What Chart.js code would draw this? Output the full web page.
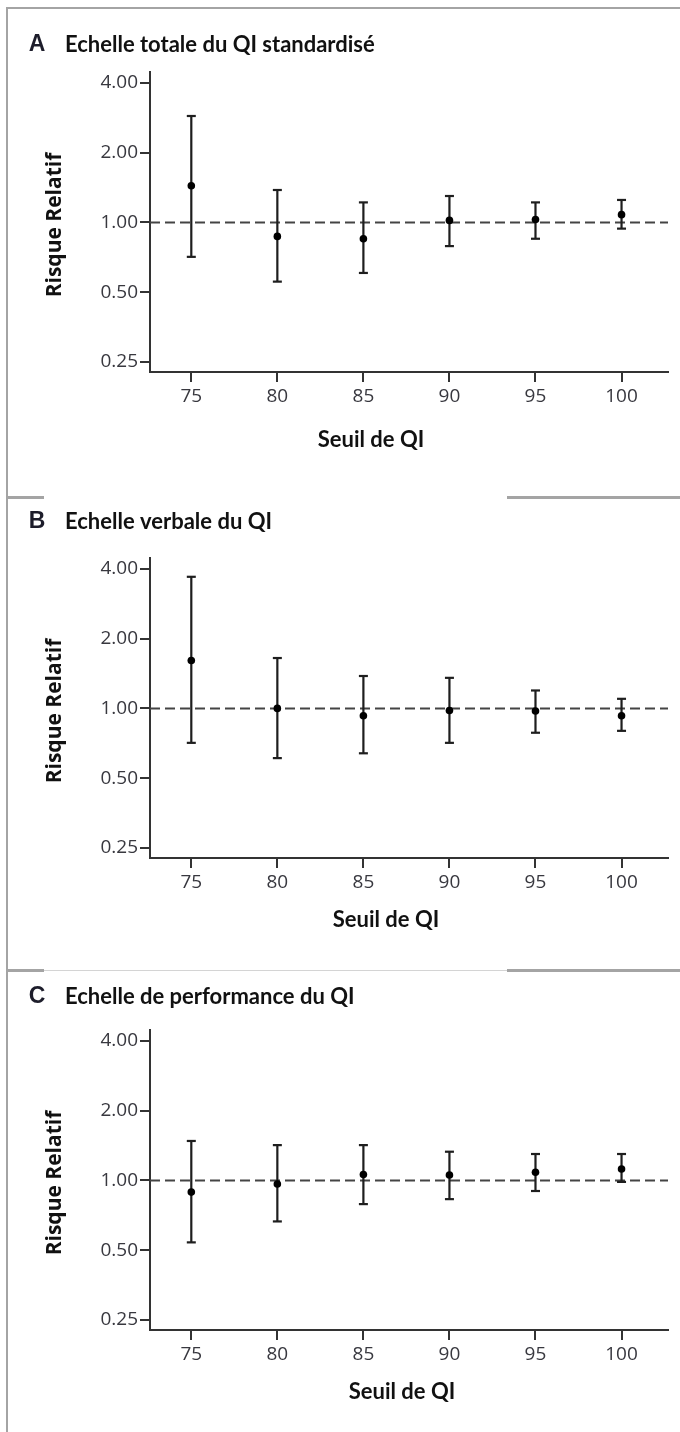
<!DOCTYPE html>
<html>
<head>
<meta charset="utf-8">
<script src="https://cdn.jsdelivr.net/npm/chart.js@4.4.1/dist/chart.umd.min.js"></script>
<style>
  html, body { margin: 0; padding: 0; background: #fff; }
  #wrap { position: relative; width: 680px; height: 1432px; overflow: hidden; }
  canvas { position: absolute; left: 0; }
  .rule { position: absolute; background: #a4a4a4; }
</style>
</head>
<body>
<div id="wrap">
  <div class="rule" style="left:6px;top:7px;width:674px;height:2px;"></div>
  <div class="rule" style="left:6px;top:7px;width:2px;height:1425px;"></div>
  <div class="rule" style="left:6px;top:496px;width:38px;height:3px;"></div>
  <div class="rule" style="left:507px;top:496px;width:173px;height:3px;"></div>
  <div class="rule" style="left:6px;top:969px;width:38px;height:3px;"></div>
  <div class="rule" style="left:507px;top:969px;width:173px;height:3px;"></div>
  <div class="rule" style="left:44px;top:970px;width:463px;height:1px;background:#d4d4d4;"></div>
  <canvas id="chartA" width="680" height="484" style="top:0px"></canvas>
  <canvas id="chartB" width="680" height="476" style="top:484px"></canvas>
  <canvas id="chartC" width="680" height="472" style="top:960px"></canvas>
</div>
<script>
// seuils de QI (axe x) et graduations de l'axe log
const seuils = [75, 80, 85, 90, 95, 100];
const yTicks = [0.25, 0.5, 1, 2, 4];

// A - echelle totale
const rrTotal = [1.44, 0.87, 0.85, 1.02, 1.03, 1.08];
const loTotal = [0.71, 0.555, 0.605, 0.79, 0.85, 0.94];
const hiTotal = [2.88, 1.38, 1.22, 1.30, 1.22, 1.25];

// B - echelle verbale
const rrVerbal = [1.61, 1.00, 0.93, 0.98, 0.975, 0.93];
const loVerbal = [0.71, 0.61, 0.64, 0.71, 0.785, 0.80];
const hiVerbal = [3.70, 1.65, 1.38, 1.355, 1.195, 1.10];

// C - echelle de performance
const rrPerf = [0.89, 0.965, 1.06, 1.055, 1.085, 1.12];
const loPerf = [0.54, 0.665, 0.79, 0.83, 0.90, 0.985];
const hiPerf = [1.48, 1.42, 1.42, 1.33, 1.30, 1.30];

const xMin = 72.6, xMax = 102.7;
const yMin = 0.226, yMax = 4.46;
const ink = '#1e1e1e';

const panelText = {
  id: 'panelText',
  afterDraw(chart, args, opts) {
    const ctx = chart.ctx;
    const area = chart.chartArea;
    ctx.save();
    ctx.textBaseline = 'middle';
    const ty = area.top + opts.titleDy;
    ctx.textAlign = 'center';
    ctx.font = 'bold 23px "Liberation Sans"';
    ctx.fillStyle = '#1d1d2b';
    ctx.fillText(opts.letter, 37, ty);
    ctx.fillStyle = '#111';
    ctx.textAlign = 'left';
    ctx.font = 'bold 22px Lato';
    ctx.fillText(opts.title, 65, ty);
    ctx.textAlign = 'center';
    ctx.fillText('Seuil de QI', opts.xTitleX, area.bottom + opts.xTitleDy);
    ctx.translate(55, (area.top + area.bottom) / 2 + 3);
    ctx.rotate(-Math.PI / 2);
    ctx.font = 'bold 21px "Open Sans"';
    ctx.fillText('Risque Relatif', 0, 0);
    ctx.restore();
  }
};

function makePanel(id, rr, lo, hi, text, top) {
  const canvas = document.getElementById(id);
  const xHeight = canvas.height - top - 300;
  const bars = [];
  const caps = [];
  seuils.forEach((s, i) => {
    bars.push({x: s, y: lo[i]}, {x: s, y: hi[i]}, {x: s, y: null});
    caps.push({x: s, y: lo[i]}, {x: s, y: hi[i]});
  });
  const tickFont = {family: '"Open Sans"', size: 19};
  return new Chart(canvas, {
    type: 'scatter',
    data: {
      datasets: [
        {
          type: 'line',
          data: [{x: xMin, y: 1}, {x: xMax, y: 1}],
          borderColor: '#444',
          borderWidth: 2,
          borderDash: [10, 5],
          pointRadius: 0,
          order: 4
        },
        {
          type: 'line',
          data: bars,
          borderColor: ink,
          borderWidth: 2.2,
          pointRadius: 0,
          spanGaps: false,
          order: 3
        },
        {
          data: caps,
          pointStyle: 'line',
          pointRadius: 4.5,
          borderColor: ink,
          borderWidth: 2.2,
          order: 2
        },
        {
          data: seuils.map((s, i) => ({x: s, y: rr[i]})),
          pointStyle: 'circle',
          pointRadius: 3.8,
          backgroundColor: '#000',
          borderColor: '#000',
          borderWidth: 0,
          order: 1
        }
      ]
    },
    options: {
      responsive: false,
      animation: false,
      devicePixelRatio: 1,
      layout: {padding: {top: top, right: 12, left: 0, bottom: 0}},
      plugins: {
        legend: {display: false},
        tooltip: {enabled: false},
        panelText: text
      },
      scales: {
        x: {
          type: 'linear',
          min: xMin,
          max: xMax,
          afterBuildTicks: s => { s.ticks = seuils.map(v => ({value: v})); },
          afterFit: s => { s.height = xHeight; },
          border: {color: '#333', width: 2},
          grid: {drawOnChartArea: false, drawTicks: true, tickLength: 10, color: '#333', lineWidth: 2},
          ticks: {font: tickFont, color: '#38383f', padding: 3, autoSkip: false, maxRotation: 0}
        },
        y: {
          type: 'logarithmic',
          min: yMin,
          max: yMax,
          afterBuildTicks: s => { s.ticks = yTicks.map(v => ({value: v})); },
          afterFit: s => { s.width = 150; },
          border: {color: '#333', width: 2},
          grid: {drawOnChartArea: false, drawTicks: true, tickLength: 10, color: '#333', lineWidth: 2},
          ticks: {
            font: tickFont, color: '#38383f', padding: 2, autoSkip: false,
            callback: v => Number(v).toFixed(2)
          }
        }
      }
    },
    plugins: [panelText]
  });
}

makePanel('chartA', rrTotal, loTotal, hiTotal,
  {letter: 'A', title: 'Echelle totale du QI standardisé', titleDy: -27, xTitleX: 371, xTitleDy: 68}, 72);
makePanel('chartB', rrVerbal, loVerbal, hiVerbal,
  {letter: 'B', title: 'Echelle verbale du QI', titleDy: -36, xTitleX: 386, xTitleDy: 62}, 74);
makePanel('chartC', rrPerf, loPerf, hiPerf,
  {letter: 'C', title: 'Echelle de performance du QI', titleDy: -33, xTitleX: 402, xTitleDy: 62}, 70);
</script>
</body>
</html>
